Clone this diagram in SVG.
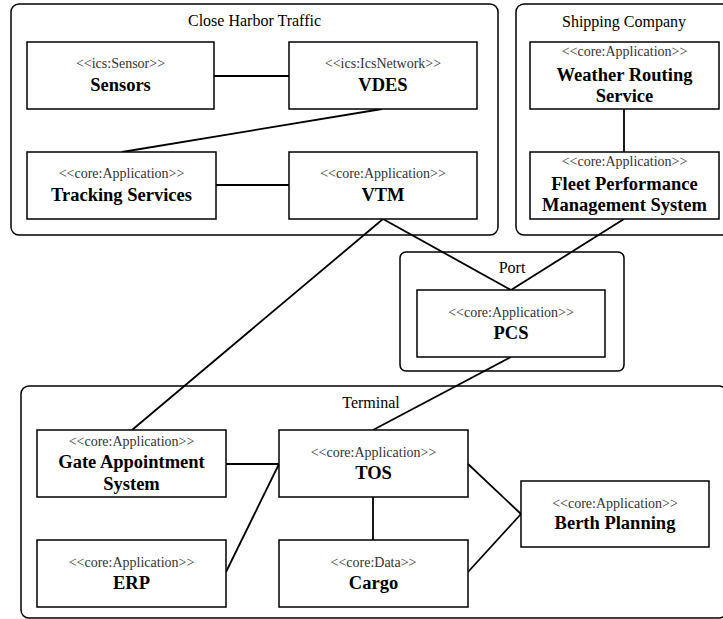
<svg xmlns="http://www.w3.org/2000/svg" width="723" height="619" viewBox="0 0 723 619">
<style>
.ct{fill:#fff;stroke:#000;stroke-width:1.5}
.bx{fill:#fff;stroke:#000;stroke-width:1.5}
.ttl{font-family:"Liberation Serif","Times New Roman",serif;font-size:16px;fill:#000;text-anchor:middle}
.st{font-family:"Liberation Serif","Times New Roman",serif;font-size:14px;fill:#333;text-anchor:middle}
.nm{font-family:"Liberation Serif","Times New Roman",serif;font-size:18.5px;font-weight:bold;fill:#000;text-anchor:middle}
.cn{stroke:#000;stroke-width:1.8;fill:none}
</style>
<rect width="723" height="619" fill="#fff"/>
<g id="close-harbor-traffic">
<rect class="ct" x="11" y="4" width="487" height="231" rx="8"/>
<text class="ttl" x="254.5" y="26">Close Harbor Traffic</text>
</g>
<g id="shipping-company">
<rect class="ct" x="516" y="4" width="216" height="231" rx="8"/>
<text class="ttl" x="624" y="27">Shipping Company</text>
</g>
<g id="port">
<rect class="ct" x="400" y="252" width="224" height="119" rx="6"/>
<text class="ttl" x="512" y="273">Port</text>
</g>
<g id="terminal">
<rect class="ct" x="21" y="386" width="706" height="232" rx="8"/>
<text class="ttl" x="371" y="408">Terminal</text>
</g>
<g id="connectors">
<line class="cn" x1="214" y1="76" x2="289" y2="76"/>
<line class="cn" x1="382" y1="109" x2="122" y2="152"/>
<line class="cn" x1="216" y1="185" x2="289" y2="185"/>
<line class="cn" x1="624" y1="109" x2="624" y2="152"/>
<line class="cn" x1="383" y1="219" x2="511" y2="290"/>
<line class="cn" x1="624" y1="219" x2="511" y2="290"/>
<line class="cn" x1="383" y1="219" x2="132" y2="430"/>
<line class="cn" x1="511" y1="357" x2="373" y2="430"/>
<line class="cn" x1="226" y1="464" x2="279" y2="464"/>
<line class="cn" x1="226" y1="572" x2="279" y2="464"/>
<line class="cn" x1="373" y1="497" x2="373" y2="540"/>
<line class="cn" x1="468" y1="464" x2="521" y2="514"/>
<line class="cn" x1="468" y1="572" x2="521" y2="514"/>
</g>
<g id="sensors">
<rect class="bx" x="27" y="42" width="187" height="67"/>
<text class="st" x="120.5" y="68">&lt;&lt;ics:Sensor&gt;&gt;</text>
<text class="nm" x="120.5" y="91">Sensors</text>
</g>
<g id="vdes">
<rect class="bx" x="289" y="42" width="188" height="67"/>
<text class="st" x="383" y="68">&lt;&lt;ics:IcsNetwork&gt;&gt;</text>
<text class="nm" x="383" y="91">VDES</text>
</g>
<g id="tracking-services">
<rect class="bx" x="27" y="152" width="189" height="67"/>
<text class="st" x="121.5" y="178">&lt;&lt;core:Application&gt;&gt;</text>
<text class="nm" x="121.5" y="200.5">Tracking Services</text>
</g>
<g id="vtm">
<rect class="bx" x="289" y="152" width="188" height="67"/>
<text class="st" x="383" y="178">&lt;&lt;core:Application&gt;&gt;</text>
<text class="nm" x="383" y="200.5">VTM</text>
</g>
<g id="weather-routing-service">
<rect class="bx" x="530" y="42" width="189" height="67"/>
<text class="st" x="624.5" y="56">&lt;&lt;core:Application&gt;&gt;</text>
<text class="nm" x="624.5" y="80.5">Weather Routing</text>
<text class="nm" x="624.5" y="101.5">Service</text>
</g>
<g id="fleet-performance-management-system">
<rect class="bx" x="530" y="152" width="189" height="67"/>
<text class="st" x="624.5" y="166">&lt;&lt;core:Application&gt;&gt;</text>
<text class="nm" x="624.5" y="190">Fleet Performance</text>
<text class="nm" x="624.5" y="211">Management System</text>
</g>
<g id="pcs">
<rect class="bx" x="417" y="290" width="188" height="67"/>
<text class="st" x="511" y="316.5">&lt;&lt;core:Application&gt;&gt;</text>
<text class="nm" x="511" y="338.5">PCS</text>
</g>
<g id="gate-appointment-system">
<rect class="bx" x="37" y="430" width="189" height="67"/>
<text class="st" x="131.5" y="445.5">&lt;&lt;core:Application&gt;&gt;</text>
<text class="nm" x="131.5" y="468">Gate Appointment</text>
<text class="nm" x="131.5" y="490">System</text>
</g>
<g id="tos">
<rect class="bx" x="279" y="430" width="189" height="67"/>
<text class="st" x="373.5" y="456.5">&lt;&lt;core:Application&gt;&gt;</text>
<text class="nm" x="373.5" y="479">TOS</text>
</g>
<g id="erp">
<rect class="bx" x="37" y="540" width="189" height="67"/>
<text class="st" x="131.5" y="566.5">&lt;&lt;core:Application&gt;&gt;</text>
<text class="nm" x="131.5" y="589">ERP</text>
</g>
<g id="cargo">
<rect class="bx" x="279" y="540" width="189" height="67"/>
<text class="st" x="373.5" y="566.5">&lt;&lt;core:Data&gt;&gt;</text>
<text class="nm" x="373.5" y="589">Cargo</text>
</g>
<g id="berth-planning">
<rect class="bx" x="521" y="481" width="188" height="66"/>
<text class="st" x="615" y="507.5">&lt;&lt;core:Application&gt;&gt;</text>
<text class="nm" x="615" y="529">Berth Planning</text>
</g>
</svg>
